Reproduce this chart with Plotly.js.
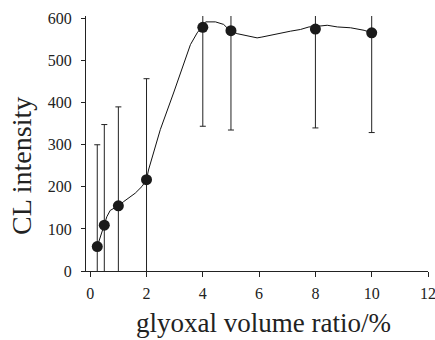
<!DOCTYPE html>
<html>
<head>
<meta charset="utf-8">
<script src="https://cdn.plot.ly/plotly-3.0.1.min.js"></script>
<style>html,body{margin:0;padding:0;background:#fff;}#chart{width:435px;height:340px;}</style>
</head>
<body>
<div id="chart"></div>
<script>
// Measured points (glyoxal volume ratio %, CL intensity) with error
const ratio = [0.25, 0.5, 1, 2, 4, 5, 8, 10];
const intensity = [58, 109, 155, 217, 579, 571, 575, 566];
const errorValues = [242, 239, 235, 240, 235, 236, 235, 237];

// Fitted curve traced through the points
const curveX = [0.25, 0.38, 0.5, 0.59, 0.71, 1, 1.19, 1.6, 1.84, 2, 2.07, 2.49, 2.96, 3.36, 3.42, 3.56, 3.8, 4, 4.1, 4.45, 4.74, 4.86, 5, 5.22, 5.52, 5.93, 6.1, 6.64, 7.12, 7.47, 7.77, 8, 8.42, 8.78, 9.25, 9.73, 10];
const curveY = [58, 86, 109, 129, 144, 155, 165, 185, 201, 217, 240, 336, 423, 502, 512, 538, 566, 583, 592, 592, 586, 578, 571, 564, 560, 554, 556, 564, 570, 574, 580, 581, 584, 580, 578, 572, 566];

const xTicks = [0, 2, 4, 6, 8, 10, 12];
const yTicks = [0, 100, 200, 300, 400, 500, 600];
const xTitle = 'glyoxal volume ratio/%';
const yTitle = 'CL intensity';

const font = 'Liberation Serif';

const traces = [
  {
    x: curveX, y: curveY, type: 'scatter', mode: 'lines',
    line: {color: '#111', width: 1}, hoverinfo: 'skip', showlegend: false
  },
  {
    x: ratio, y: intensity, type: 'scatter', mode: 'markers',
    marker: {color: '#1a1a1a', size: 11},
    error_y: {type: 'data', array: errorValues, visible: true, color: '#222', thickness: 1, width: 3},
    showlegend: false
  }
];

const layout = {
  width: 435, height: 340,
  margin: {l: 86, r: 7, t: 16, b: 69},
  paper_bgcolor: '#fff', plot_bgcolor: '#fff',
  font: {family: font, color: '#222'},
  showlegend: false,
  xaxis: {
    range: [-0.15, 12], tickvals: xTicks, ticktext: xTicks.map(String),
    showgrid: false, zeroline: false, showline: true, linecolor: '#222', linewidth: 1,
    ticks: 'outside', ticklen: 5, tickcolor: '#222', tickfont: {size: 16, family: font, color: '#222'},
    ticklabelstandoff: 3, ticklabeloverflow: 'allow'
  },
  yaxis: {
    range: [0, 606], tickvals: yTicks, ticktext: yTicks.map(String),
    showgrid: false, zeroline: false, showline: true, linecolor: '#222', linewidth: 1,
    ticks: 'outside', ticklen: 4, tickcolor: '#222', tickfont: {size: 16, family: font, color: '#222'},
    ticklabelstandoff: 6
  },
  annotations: [
    {text: xTitle, xref: 'paper', yref: 'paper', x: 0.52, y: -0.205, xanchor: 'center', yanchor: 'middle',
     showarrow: false, font: {size: 27, family: font, color: '#222'}},
    {text: yTitle, xref: 'paper', yref: 'paper', x: -0.187, y: 0.412, xanchor: 'center', yanchor: 'middle',
     textangle: -90, showarrow: false, font: {size: 28, family: font, color: '#222'}}
  ]
};

Plotly.newPlot('chart', traces, layout, {displayModeBar: false, staticPlot: true});
</script>
</body>
</html>
